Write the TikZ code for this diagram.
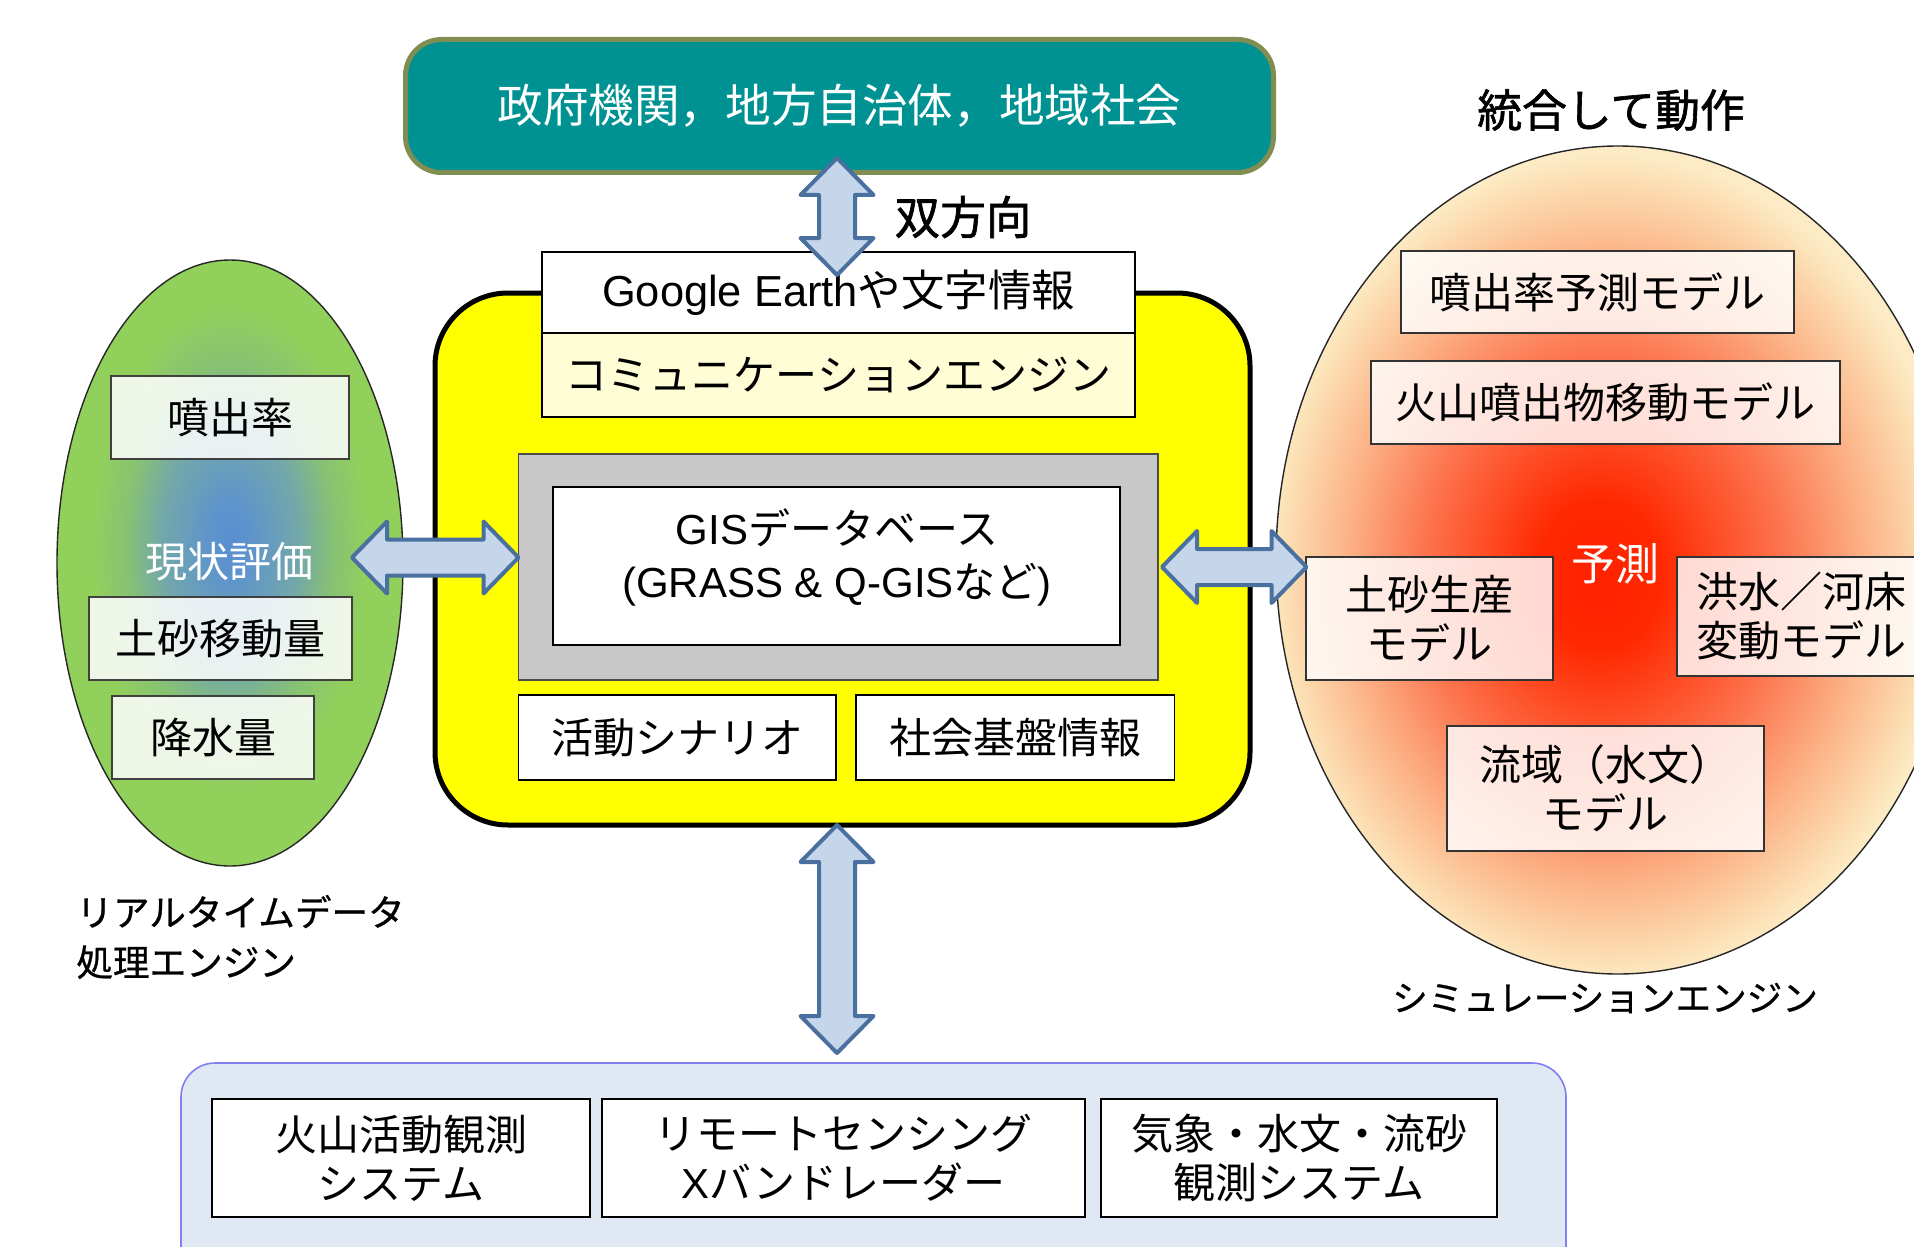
\documentclass[tikz,border=0pt]{standalone}
\usepackage{fontspec}
\setmainfont{Noto Sans CJK JP}
\newfontfamily\lat{Liberation Sans}
\newfontfamily\jmed{Noto Sans CJK JP}[FakeBold=1.4]
\newfontfamily\jsemi{Noto Sans CJK JP}[FakeBold=0.7]
\usetikzlibrary{calc}
\definecolor{govteal}{RGB}{0,146,146}
\definecolor{govline}{RGB}{128,142,82}
\definecolor{coreyellow}{RGB}{255,255,0}
\definecolor{commfill}{RGB}{255,253,214}
\definecolor{dbgray}{RGB}{200,200,200}
\definecolor{obsfill}{RGB}{223,232,243}
\definecolor{obsline}{RGB}{128,128,240}
\definecolor{arrowfill}{RGB}{197,214,234}
\definecolor{arrowline}{RGB}{74,112,160}
\pgfdeclareradialshading{evalglow}{\pgfpoint{0bp}{2bp}}{rgb(0bp)=(0.35,0.56,0.82);rgb(3bp)=(0.37,0.58,0.80);rgb(10bp)=(0.45,0.66,0.66);rgb(15bp)=(0.53,0.76,0.45);rgb(20bp)=(0.573,0.816,0.36);rgb(50bp)=(0.573,0.816,0.36)}
\pgfdeclareradialshading{simglow}{\pgfpoint{-1.5bp}{-1bp}}{rgb(0bp)=(1,0.13,0);rgb(4.5bp)=(1,0.16,0);rgb(13bp)=(0.99,0.45,0.3);rgb(19bp)=(0.99,0.70,0.53);rgb(23.5bp)=(0.99,0.87,0.70);rgb(25bp)=(0.99,0.92,0.77);rgb(50bp)=(0.99,0.92,0.77)}
\newcommand\jfs[2]{\fontsize{#1}{#2}\selectfont}
\newcommand\vblock[2]{\path[blockarr] let \p1=(#1), \p2=(#2) in
  (\x1,\y1) -- (\x1+18.25pt,\y1-18.5pt) -- (\x1+9pt,\y1-18.5pt) -- (\x2+9pt,\y2+18.5pt)
  -- (\x2+18.25pt,\y2+18.5pt) -- (\x2,\y2) -- (\x2-18.25pt,\y2+18.5pt) -- (\x2-9pt,\y2+18.5pt)
  -- (\x1-9pt,\y1-18.5pt) -- (\x1-18.25pt,\y1-18.5pt) -- cycle;}
\newcommand\hblock[2]{\path[blockarr] let \p1=(#1), \p2=(#2) in
  (\x1,\y1) -- (\x1+17.5pt,\y1+18pt) -- (\x1+17.5pt,\y1+9pt) -- (\x2-17.5pt,\y2+9pt)
  -- (\x2-17.5pt,\y2+18pt) -- (\x2,\y2) -- (\x2-17.5pt,\y2-18pt) -- (\x2-17.5pt,\y2-9pt)
  -- (\x1+17.5pt,\y1-9pt) -- (\x1+17.5pt,\y1-18pt) -- cycle;}
\tikzset{
  blockarr/.style={draw=arrowline, fill=arrowfill, line width=2pt, line join=round},
  plain/.style={inner sep=0pt, align=center},
  wbox/.style={draw=black, line width=0.75pt, fill=white, inner sep=0pt, align=center},
  evalbox/.style={draw=black!75, line width=0.7pt, fill=white, fill opacity=0.85, text opacity=1, inner sep=0pt, align=center},
  simbox/.style={draw=black!80, line width=0.7pt, fill=white, fill opacity=0.82, text opacity=1, inner sep=0pt, align=center},
  obsbox/.style={draw=black, line width=1pt, fill=white, inner sep=0pt, align=center, font=\jfs{21pt}{24.5pt}},
}
\begin{document}
\begin{tikzpicture}[x=0.5pt,y=-0.5pt]
\useasboundingbox (0,0) rectangle (1914,1246);
\fill[white] (0,0) rectangle (1914,1246);

% ellipses
\path[draw=black!85, line width=0.7pt, shading=evalglow] (230,563) ellipse [x radius=86.5pt, y radius=151.5pt];
\path[draw=black!85, line width=0.7pt, shading=simglow] (1618,560) ellipse [x radius=171pt, y radius=207pt];

% government box
\node[name=gov, draw=govline, line width=2.5pt, fill=govteal, rounded corners=18pt,
      minimum width=434pt, minimum height=66.5pt, text=white, font=\jfs{22.8pt}{27pt}] at (839.5,106) {政府機関，地方自治体，地域社会};
\node[name=bidir, plain, font=\jmed\jfs{22.8pt}{27pt}] at (963,217) {双方向};
\node[name=togo, plain, font=\jmed\jfs{22.4pt}{27pt}] at (1611,110) {統合して動作};

% core
\node[name=core, draw=black, line width=2.5pt, fill=coreyellow, rounded corners=36.5pt,
      minimum width=407.5pt, minimum height=266pt] at (842.5,559) {};
\node[name=google, wbox, minimum width=296.5pt, minimum height=40.5pt, font=\jfs{21.7pt}{26pt}] at (838.5,292.5) {{\lat Google Earth}や文字情報};
\node[name=comm, wbox, fill=commfill, minimum width=296.5pt, minimum height=42pt, font=\jfs{21pt}{26pt}] at (838.5,375) {コミュニケーションエンジン};
\node[name=dbframe, draw=black!70, line width=0.6pt, fill=dbgray, minimum width=319.7pt, minimum height=113pt] at (838.3,567) {};
\node[name=gisbox, wbox, minimum width=283.5pt, minimum height=79pt] at (836.5,566) {};
\node[name=gistext, plain, font=\jfs{21pt}{26.5pt}] at (837,557) {{\lat GIS}データベース\\{\lat (GRASS \& Q-GIS}など{\lat )}};
\node[name=scen, wbox, minimum width=158.7pt, minimum height=42.5pt, font=\jfs{21pt}{26pt}] at (677.3,737.5) {活動シナリオ};
\node[name=infra, wbox, minimum width=159.25pt, minimum height=42.5pt, font=\jfs{21pt}{26pt}] at (1015.25,737.5) {社会基盤情報};

% left (real-time data)
\node[name=erup, evalbox, minimum width=119pt, minimum height=41.5pt, font=\jfs{21pt}{26pt}] at (230,417.5) {噴出率};
\node[name=curr, plain, text=white, font=\jfs{21pt}{26pt}] at (229,562) {現状評価};
\node[name=sed, evalbox, minimum width=131.5pt, minimum height=41.5pt, font=\jfs{21pt}{26pt}] at (220.5,638.5) {土砂移動量};
\node[name=rain, evalbox, minimum width=101pt, minimum height=41.5pt, font=\jfs{21pt}{26pt}] at (213,737.5) {降水量};
\node[name=rtlabel, plain, anchor=west, align=left, font=\jsemi\jfs{18.3pt}{25pt}] at (76,937) {リアルタイムデータ\\処理エンジン};

% right (simulation)
\node[name=m1, simbox, minimum width=196.5pt, minimum height=41pt, font=\jfs{21pt}{26pt}] at (1597.5,292) {噴出率予測モデル};
\node[name=m2, simbox, minimum width=234.5pt, minimum height=41.5pt, font=\jfs{21pt}{26pt}] at (1605.5,402.5) {火山噴出物移動モデル};
\node[name=pred, plain, text=white, font=\jfs{22pt}{26pt}] at (1615,564) {予測};
\node[name=m3, simbox, minimum width=123.5pt, minimum height=61.5pt, font=\jfs{21pt}{24.5pt}] at (1429.5,618.5) {土砂生産\\モデル};
\node[name=m4, simbox, minimum width=126.5pt, minimum height=59.5pt] at (1803.5,616.5) {};
\node[name=m4text, plain, anchor=west, align=left, font=\jfs{21pt}{24.5pt}] at (1696,616) {洪水／河床\\変動モデル};
\node[name=m5, simbox, minimum width=158.5pt, minimum height=62.5pt, font=\jfs{21pt}{24.5pt}] at (1605.5,788.5) {流域（水文）\\モデル};
\node[name=simlabel, plain, font=\jsemi\jfs{17.8pt}{22pt}] at (1605,998) {シミュレーションエンジン};

% observation
\node[name=obsarea, draw=obsline, line width=0.8pt, fill=obsfill, rounded corners=17pt,
      minimum width=692.5pt, minimum height=108.5pt] at (873.5,1171.5) {};
\node[name=o1, obsbox, minimum width=189pt, minimum height=59pt] at (401,1158) {火山活動観測\\システム};
\node[name=o2, obsbox, minimum width=241.5pt, minimum height=59pt] at (843.5,1158) {リモートセンシング\\{\lat X}バンドレーダー};
\node[name=o3, obsbox, minimum width=198pt, minimum height=59pt] at (1299,1158) {気象・水文・流砂\\観測システム};

% block arrows
\coordinate (upTop) at (837,158);
\coordinate (upBot) at (837,275);
\coordinate (dnTop) at (837,825);
\coordinate (dnBot) at (837,1053);
\coordinate (lfL) at (352,557.5);
\coordinate (lfR) at (518.5,557.5);
\coordinate (rtL) at (1162,567);
\coordinate (rtR) at (1306.5,567);
\vblock{upTop}{upBot}
\vblock{dnTop}{dnBot}
\hblock{lfL}{lfR}
\hblock{rtL}{rtR}
\end{tikzpicture}
\end{document}
